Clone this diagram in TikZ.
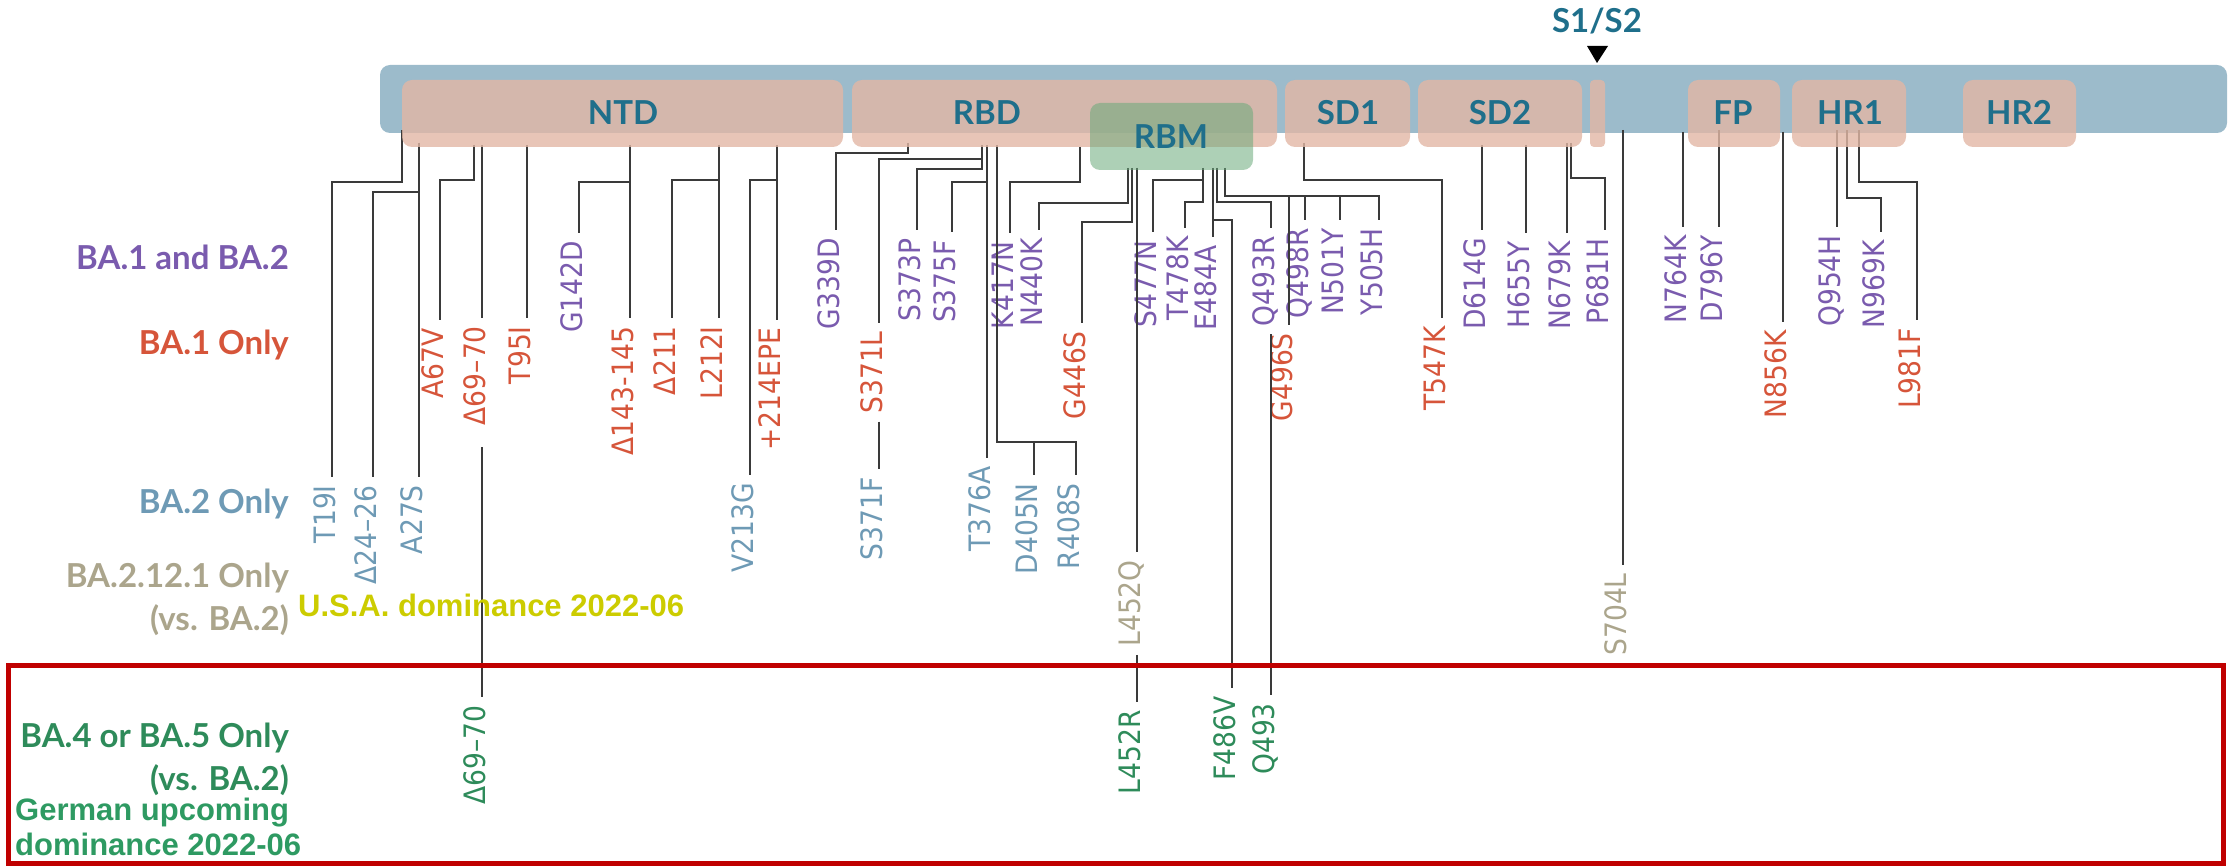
\documentclass[tikz,border=0pt]{standalone}
\usepackage{fontspec}
\newfontfamily\mutfont[FakeStretch=0.9]{DejaVu Sans}
\newfontfamily\labfont{Lato}
\newfontfamily\arialfont{Liberation Sans}
\definecolor{barblue}{HTML}{9CBBCB}
\definecolor{dompink}{RGB}{226,183,165}
\definecolor{rbmgreen}{HTML}{6AA97A}
\definecolor{domtext}{HTML}{1F6F8B}
\definecolor{cpurple}{HTML}{7A5BAE}
\definecolor{cred}{HTML}{D6553A}
\definecolor{cblue}{HTML}{6E9AB5}
\definecolor{ctan}{HTML}{ABA58C}
\definecolor{cgreen}{HTML}{2E8B5A}
\definecolor{gtext}{HTML}{2E9A62}
\definecolor{ytext}{HTML}{CCCC00}
\definecolor{boxred}{HTML}{C00000}
\definecolor{conncol}{HTML}{3A3A3A}
\tikzset{
  conn/.style={draw=conncol, line width=1.6pt},
  mut/.style={rotate=90, anchor=east, inner xsep=8pt, inner ysep=0pt,
    font=\mutfont\fontsize{29.5}{32}\selectfont, text height=0.73em, text depth=0pt, text=#1},
  side/.style={anchor=base east, inner sep=0pt, font=\labfont\bfseries\fontsize{33}{36}\selectfont, text=#1},
  note/.style={anchor=base west, inner sep=0pt, font=\arialfont\bfseries\fontsize{#1}{#1}\selectfont},
  domlab/.style={anchor=base, inner sep=0pt, font=\labfont\bfseries\fontsize{33}{36}\selectfont, text=domtext},
  dombox/.style={fill=dompink, fill opacity=0.8, rounded corners=#1},
  dombox/.default=10pt
}
\begin{document}
\begin{tikzpicture}[x=1pt,y=-1pt]
\useasboundingbox (0,0) rectangle (2228,866);
% protein bar
\fill[barblue, rounded corners=10pt] (380,65) rectangle (2227,133);
% S1/S2 cleavage mark
\fill[black] (1587,46) -- (1608,46) -- (1597,63) -- cycle;
\node[domlab] (S1S2) at (1597,33) {S1/S2};

% ---------- mutation labels ----------
% BA.1 and BA.2
\node[mut=cpurple] (G142D) at (579,233) {G142D};
\node[mut=cpurple] (G339D) at (836,230) {G339D};
\node[mut=cpurple] (S373P) at (917,230) {S373P};
\node[mut=cpurple] (S375F) at (952,232) {S375F};
\node[mut=cpurple] (K417N) at (1010,233) {K417N};
\node[mut=cpurple] (N440K) at (1039,230) {N440K};
\node[mut=cpurple] (S477N) at (1153,232) {S477N};
\node[mut=cpurple] (T478K) at (1185,228) {T478K};
\node[mut=cpurple] (E484A) at (1213,237) {E484A};
\node[mut=cpurple] (Q493R) at (1271,228) {Q493R};
\node[mut=cpurple] (Q498R) at (1305,220) {Q498R};
\node[mut=cpurple] (N501Y) at (1340,220) {N501Y};
\node[mut=cpurple] (Y505H) at (1379,220) {Y505H};
\node[mut=cpurple] (D614G) at (1482,230) {D614G};
\node[mut=cpurple] (H655Y) at (1526,233) {H655Y};
\node[mut=cpurple] (N679K) at (1567,233) {N679K};
\node[mut=cpurple] (P681H) at (1605,230) {P681H};
\node[mut=cpurple] (N764K) at (1683,227) {N764K};
\node[mut=cpurple] (D796Y) at (1719,227) {D796Y};
\node[mut=cpurple] (Q954H) at (1837,227) {Q954H};
\node[mut=cpurple] (N969K) at (1881,232) {N969K};
% BA.1 only
\node[mut=cred] (A67V) at (440,320) {A67V};
\node[mut=cred] (D6970a) at (482,318) {Δ69–70};
\node[mut=cred] (T95I) at (527,318) {T95I};
\node[mut=cred] (D143) at (630,318) {Δ143-145};
\node[mut=cred] (D211) at (672,318) {Δ211};
\node[mut=cred] (L212I) at (719,318) {L212I};
\node[mut=cred] (E214) at (777,320) {+214EPE};
\node[mut=cred] (S371L) at (879,323) {S371L};
\node[mut=cred] (G446S) at (1082,323) {G446S};
\node[mut=cred] (G496S) at (1289,325) {G496S};
\node[mut=cred] (T547K) at (1442,318) {T547K};
\node[mut=cred] (N856K) at (1783,322) {N856K};
\node[mut=cred] (L981F) at (1917,320) {L981F};
% BA.2 only
\node[mut=cblue] (T19I) at (332,477) {T19I};
\node[mut=cblue] (D2426) at (373,477) {Δ24–26};
\node[mut=cblue] (A27S) at (419,477) {A27S};
\node[mut=cblue] (V213G) at (750,475) {V213G};
\node[mut=cblue] (S371F) at (879,469) {S371F};
\node[mut=cblue] (T376A) at (987,458) {T376A};
\node[mut=cblue] (D405N) at (1034,475) {D405N};
\node[mut=cblue] (R408S) at (1076,475) {R408S};
% BA.2.12.1 only
\node[mut=ctan] (L452Q) at (1137,552) {L452Q};
\node[mut=ctan] (S704L) at (1623,565) {S704L};
% BA.4 / BA.5 only
\node[mut=cgreen] (D6970c) at (482,697) {Δ69–70};
\node[mut=cgreen] (L452R) at (1137,702) {L452R};
\node[mut=cgreen] (F486V) at (1232,688) {F486V};
\node[mut=cgreen] (Q493) at (1271,695) {Q493};

% ---------- connectors ----------
% NTD
\draw[conn] (402,130) -- (402,182) -| (T19I.east);
\draw[conn] (419,143) -- (419,192) -| (D2426.east);
\draw[conn] (419,143) -- (A27S.east);
\draw[conn] (474,145) -- (474,180) -| (A67V.east);
\draw[conn] (482,145) -- (D6970a.east);
\draw[conn, shorten <=14pt] (D6970a.west) -- (D6970c.east);
\draw[conn] (527,145) -- (T95I.east);
\draw[conn] (630,145) -- (D143.east);
\draw[conn] (630,182) -| (G142D.east);
\draw[conn] (719,145) -- (L212I.east);
\draw[conn] (719,180) -| (D211.east);
\draw[conn] (777,145) -- (E214.east);
\draw[conn] (777,180) -| (V213G.east);
% RBD
\draw[conn] (908,143) -- (908,153) -| (G339D.east);
\draw[conn] (982,145) -- (982,169) -| (S373P.east);
\draw[conn] (982,159) -| (S371L.east);
\draw[conn] (S371L.west) -- (S371F.east);
\draw[conn] (987,145) -- (T376A.east);
\draw[conn] (987,182) -| (S375F.east);
\draw[conn] (997,145) -- (997,442) -| (R408S.east);
\draw[conn] (1034,442) -- (D405N.east);
\draw[conn] (1080,147) -- (1080,182) -| (K417N.east);
% RBM
\draw[conn] (1128,168) -- (1128,203) -| (N440K.east);
\draw[conn] (1132,168) -- (1132,222) -| (G446S.east);
\draw[conn] (1137,168) -- (L452Q.east);
\draw[conn] (L452Q.west) -- (L452R.east);
\draw[conn] (1203,168) -- (1203,202) -| (T478K.east);
\draw[conn] (1203,180) -| (S477N.east);
\draw[conn] (1213,168) -- (E484A.east);
\draw[conn] (1213,220) -| (F486V.east);
\draw[conn] (1217,168) -- (1217,202) -| (Q493R.east);
\draw[conn] (Q493R.west) -- (Q493.east);
\draw[conn] (1225,168) -- (1225,196) -| (Y505H.east);
\draw[conn] (1289,196) -- (G496S.east);
\draw[conn] (1305,196) -- (Q498R.east);
\draw[conn] (1340,196) -- (N501Y.east);
% SD1, SD2, S2
\draw[conn] (1304,143) -- (1304,180) -| (T547K.east);
\draw[conn] (1482,145) -- (D614G.east);
\draw[conn] (1526,145) -- (H655Y.east);
\draw[conn] (1567,143) -- (N679K.east);
\draw[conn] (1571,143) -- (1571,178) -| (P681H.east);
\draw[conn] (1623,130) -- (S704L.east);
\draw[conn] (1683,132) -- (N764K.east);
\draw[conn] (1719,130) -- (D796Y.east);
\draw[conn] (1783,132) -- (N856K.east);
\draw[conn] (1837,130) -- (Q954H.east);
\draw[conn] (1847,130) -- (1847,198) -| (N969K.east);
\draw[conn] (1859,130) -- (1859,182) -| (L981F.east);

% ---------- domain boxes ----------
\fill[dombox] (402,80) rectangle (843,147);
\fill[dombox] (852,80) rectangle (1277,147);
\fill[dombox] (1285,80) rectangle (1410,147);
\fill[dombox] (1418,80) rectangle (1582,147);
\fill[dombox=4pt] (1590,80) rectangle (1605,147);
\fill[dombox] (1688,80) rectangle (1780,147);
\fill[dombox] (1792,80) rectangle (1906,147);
\fill[dombox] (1963,80) rectangle (2076,147);
\fill[rbmgreen, fill opacity=0.55, rounded corners=10pt] (1090,103) rectangle (1253,170);
\node[domlab] (NTD) at (623,125) {NTD};
\node[domlab] (RBD) at (987,125) {RBD};
\node[domlab] (RBM) at (1171,149) {RBM};
\node[domlab] (SD1) at (1348,125) {SD1};
\node[domlab] (SD2) at (1500,125) {SD2};
\node[domlab] (FP) at (1733,125) {FP};
\node[domlab] (HR1) at (1850,125) {HR1};
\node[domlab] (HR2) at (2019,125) {HR2};

% ---------- row labels ----------
\node[side=cpurple] (r1) at (289,270) {BA.1 and BA.2};
\node[side=cred] (r2) at (289,355) {BA.1 Only};
\node[side=cblue] (r3) at (289,513) {BA.2 Only};
\node[side=ctan] (r4) at (289,587) {BA.2.12.1 Only};
\node[side=ctan] (r5) at (289,630) {(vs. BA.2)};
\node[side=cgreen] (r6) at (289,747) {BA.4 or BA.5 Only};
\node[side=cgreen] (r7) at (289,790) {(vs. BA.2)};
\node[note=31, text=ytext] (usa) at (298,616) {U.S.A. dominance 2022-06};
\node[note=31, text=gtext] (ger1) at (15,820) {German upcoming};
\node[note=31, text=gtext] (ger2) at (15,855) {dominance 2022-06};

% red frame
\draw[boxred, line width=5pt] (8,665) rectangle (2223,863);
\end{tikzpicture}
\end{document}
